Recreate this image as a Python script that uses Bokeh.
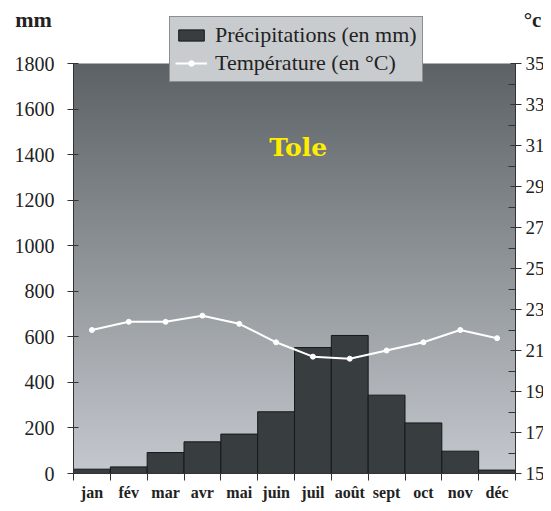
import numpy as np
from bokeh.plotting import figure
from bokeh.models import Range1d, LinearAxis, FixedTicker, Legend, LegendItem, Label
from bokeh.embed import file_html
from bokeh.resources import INLINE

months = ["jan", "fév", "mar", "avr", "mai", "juin", "juil", "août", "sept", "oct", "nov", "déc"]
precip = [19, 29, 92, 139, 173, 271, 553, 606, 344, 222, 98, 15]
temp = [22.0, 22.4, 22.4, 22.7, 22.3, 21.4, 20.7, 20.6, 21.0, 21.4, 22.0, 21.6]
mm_ticks = list(range(0, 2000, 200))
temp_ticks = list(range(15, 37, 2))
temp_minor = list(range(16, 35, 2))

FONT = "Liberation Serif"
W, H = 543, 503
# plot-area placement in pixels (canvas coordinates, top-left origin)
PX_L, PX_R, PY_T, PY_B = 73, 515, 63, 473
MM_MAX = 1800
T_MIN, T_MAX = 15, 35
n_m = len(months)

sx = (PX_R - PX_L) / n_m
sy = (PY_B - PY_T) / MM_MAX
st = (PY_B - PY_T) / (T_MAX - T_MIN)

x_range = Range1d(-PX_L / sx, n_m + (W - PX_R) / sx)
y_range = Range1d(-(H - PY_B) / sy, MM_MAX + PY_T / sy)
t_range = Range1d(T_MIN - (H - PY_B) / st, T_MAX + PY_T / st)

p = figure(width=W, height=H, output_backend="svg", toolbar_location=None,
           x_range=x_range, y_range=y_range, x_axis_location=None, y_axis_location=None,
           min_border=0)
p.extra_y_ranges = {"temp": t_range}
p.grid.visible = False
p.outline_line_color = None
p.background_fill_color = "white"
p.border_fill_color = "white"

x = list(np.arange(n_m) + 0.5)
bounds = list(range(n_m + 1))

# vertical gradient background of the plot area
n = 256
grad = np.zeros((n, 1), dtype=np.uint32)
view = grad.view(dtype=np.uint8).reshape((n, 1, 4))
top = np.array([92, 98, 101])
bot = np.array([197, 201, 207])
for i in range(n):
    t = i / (n - 1)
    view[i, 0, :3] = (bot + (top - bot) * t).astype(np.uint8)
    view[i, 0, 3] = 255
p.image_rgba(image=[grad], x=0, y=0, dw=n_m, dh=MM_MAX, level="image")

r_bar = p.vbar(x=x, top=precip, width=1.0, fill_color="#383e40", line_color="#15191a", line_width=1)
r_line = p.line(x, temp, y_range_name="temp", line_color="white", line_width=2)
r_pts = p.scatter(x, temp, y_range_name="temp", size=5, color="white")

AX = "#333333"
TXT = "#222222"

# left axis
ya = LinearAxis(ticker=FixedTicker(ticks=mm_ticks), fixed_location=0, bounds=(0, MM_MAX))
ya.major_tick_out = 6
ya.major_tick_in = 5
ya.minor_tick_line_color = None
ya.axis_line_color = AX
ya.major_tick_line_color = AX
ya.major_label_text_font = FONT
ya.major_label_text_font_size = "20px"
ya.major_label_text_color = TXT
ya.major_label_standoff = 13
p.add_layout(ya, "left")

# bottom axis
xa = LinearAxis(ticker=FixedTicker(ticks=x, minor_ticks=bounds), fixed_location=0, bounds=(0, n_m))
xa.major_label_overrides = {float(v): m for v, m in zip(x, months)}
xa.major_tick_line_color = None
xa.major_tick_out = 0
xa.major_tick_in = 0
xa.minor_tick_out = 7
xa.minor_tick_in = 0
xa.minor_tick_line_color = AX
xa.axis_line_color = AX
xa.major_label_text_font = FONT
xa.major_label_text_font_style = "bold"
xa.major_label_text_font_size = "16px"
xa.major_label_text_color = TXT
xa.major_label_standoff = 3
p.add_layout(xa, "below")

# right axis
ra = LinearAxis(y_range_name="temp", ticker=FixedTicker(ticks=temp_ticks, minor_ticks=temp_minor),
                fixed_location=n_m, bounds=(T_MIN, T_MAX))
ra.major_tick_in = 5
ra.major_tick_out = 6
ra.minor_tick_in = 7
ra.minor_tick_out = 0
ra.axis_line_color = AX
ra.major_tick_line_color = AX
ra.minor_tick_line_color = AX
ra.major_label_text_font = FONT
ra.major_label_text_font_size = "19px"
ra.major_label_text_color = TXT
ra.major_label_standoff = 4
p.add_layout(ra, "right")

legend = Legend(items=[LegendItem(label="Précipitations (en mm)", renderers=[r_bar]),
                       LegendItem(label="Température (en °C)", renderers=[r_line, r_pts])],
                location=(169, H - 82))
legend.background_fill_color = "#c9cccf"
legend.background_fill_alpha = 1.0
legend.border_line_color = "#505050"
legend.border_line_width = 1
legend.label_text_font = FONT
legend.label_text_font_size = "22px"
legend.label_text_color = TXT
legend.glyph_width = 32
legend.glyph_height = 14
legend.label_height = 22
legend.spacing = 2
legend.padding = 5
legend.margin = 0
legend.label_standoff = 8
p.add_layout(legend, "center")

p.add_layout(Label(x=6.1, y=(PY_B - 147) / sy, text="Tole", text_align="center", text_baseline="middle",
                   text_font="DejaVu Serif", text_font_style="bold", text_font_size="25px",
                   text_color="#ffee00"))
p.add_layout(Label(x=(33 - PX_L) / sx, y=(PY_B - 19) / sy, text="mm", text_align="center",
                   text_baseline="middle", text_font=FONT, text_font_style="bold",
                   text_font_size="22px", text_color=TXT))
p.add_layout(Label(x=n_m + (532 - PX_R) / sx, y=(PY_B - 19) / sy, text="°c", text_align="center",
                   text_baseline="middle", text_font=FONT, text_font_style="bold",
                   text_font_size="21px", text_color=TXT))

open("out.html", "w").write(file_html(p, INLINE))
